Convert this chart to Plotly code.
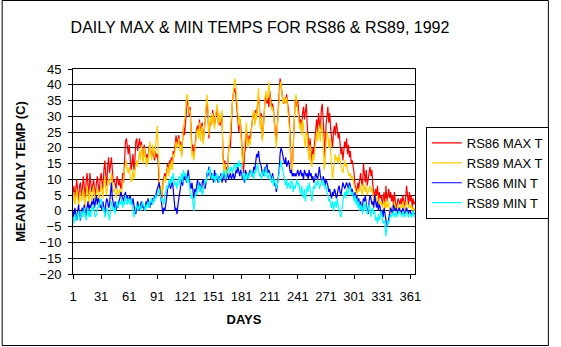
import plotly.graph_objects as go

# ---------------- data ----------------
days = list(range(1, 367))

rs86_max = [
    5, 8, 4, 7, 10, 6, 3, 8, 9, 5,
    7, 11, 6, 4, 9, 12, 8, 5, 12, 9,
    6, 8, 10, 7, 5, 9, 11, 8, 6, 10,
    12, 9, 7, 13, 16, 11, 8, 14, 17, 12,
    15, 17, 13, 9, 10, 8, 7, 11, 9, 8,
    10, 7, 8, 12, 9, 14, 22, 23, 20, 18,
    21, 17, 13, 15, 18, 13, 16, 22, 23, 19,
    21, 23, 20, 22, 18, 16, 21, 19, 16, 18,
    16, 20, 21, 19, 17, 20, 18, 16, 19, 17,
    18, 15, 8, 5, 7, 4, 9, 11, 12, 10,
    13, 15, 12, 16, 15, 17, 14, 19, 18, 22,
    24, 21, 23, 24, 20, 22, 18, 25, 27, 24,
    28, 32, 35, 34, 30, 33, 24, 19, 21, 17,
    20, 24, 26, 27, 25, 29, 24, 27, 28, 22,
    26, 30, 34, 35, 31, 23, 27, 29, 28, 32,
    30, 27, 29, 31, 33, 28, 30, 27, 29, 31,
    18, 14, 16, 12, 14, 13, 19, 21, 20, 30,
    34, 37, 38, 39, 36, 33, 30, 25, 29, 27,
    22, 14, 12, 18, 20, 26, 23, 21, 24, 22,
    25, 29, 30, 31, 28, 32, 30, 34, 36, 33,
    27, 31, 23, 26, 33, 35, 37, 34, 36, 33,
    38, 35, 33, 34, 32, 28, 24, 22, 27, 33,
    38, 42, 40, 37, 35, 34, 36, 35, 37, 34,
    32, 28, 20, 14, 13, 22, 30, 34, 36, 33,
    35, 31, 27, 29, 25, 31, 33, 29, 32, 34,
    27, 21, 19, 23, 17, 15, 20, 18, 22, 26,
    29, 25, 31, 28, 26, 32, 34, 29, 24, 17,
    27, 30, 33, 28, 31, 26, 23, 20, 25, 27,
    24, 28, 26, 23, 25, 21, 18, 20, 16, 19,
    22, 20, 23, 18, 21, 17, 19, 15, 16, 14,
    12, 8, 7, 6, 9, 7, 10, 12, 9, 8,
    15, 11, 9, 13, 8, 10, 12, 14, 11, 13,
    8, 6, 4, 7, 5, 8, 3, 6, 4, 5,
    2, 4, 6, 1, 8, 3, 5, 7, 4, 6,
    3, 5, 2, 6, 3, 1, 2, 4, 3, 2,
    4, 2, 5, 3, 1, 4, 8, 5, 2, 6,
    3, 5, 1, 4, 2, 3,
]

rs89_max = [
    3, 6, 2, 5, 7, 4, 1, 5, 6, 3,
    4, 7, 3, 1, 5, 8, 5, 2, 7, 6,
    3, 5, 8, 4, 2, 6, 7, 5, 3, 6,
    8, 6, 4, 9, 11, 7, 5, 9, 10, 8,
    10, 12, 9, 6, 7, 5, 4, 7, 6, 5,
    7, 5, 6, 9, 10, 13, 15, 16, 13, 12,
    14, 11, 9, 10, 13, 10, 12, 15, 16, 14,
    17, 19, 16, 21, 18, 15, 20, 18, 14, 17,
    15, 19, 22, 18, 16, 21, 19, 17, 20, 24,
    27, 18, 9, 6, 8, 5, 8, 10, 11, 9,
    12, 14, 11, 15, 13, 16, 13, 18, 17, 20,
    22, 20, 21, 23, 19, 21, 17, 24, 26, 28,
    31, 36, 37, 35, 31, 32, 22, 17, 19, 16,
    19, 23, 25, 26, 23, 28, 22, 26, 27, 21,
    25, 29, 36, 37, 33, 24, 28, 30, 27, 31,
    29, 26, 30, 32, 34, 27, 31, 28, 30, 32,
    17, 13, 15, 12, 13, 12, 18, 22, 26, 29,
    33, 38, 41, 42, 37, 34, 31, 27, 30, 25,
    19, 15, 17, 20, 24, 28, 22, 20, 23, 21,
    24, 28, 31, 32, 27, 31, 29, 35, 39, 32,
    26, 30, 22, 25, 32, 36, 38, 35, 37, 41,
    37, 34, 32, 33, 31, 27, 23, 20, 26, 32,
    37, 40, 41, 38, 34, 35, 36, 34, 36, 33,
    30, 26, 18, 14, 12, 20, 28, 35, 37, 34,
    33, 30, 26, 28, 24, 29, 27, 22, 20, 25,
    24, 19, 16, 21, 15, 14, 18, 16, 20, 22,
    25, 22, 27, 24, 22, 28, 26, 23, 13, 15,
    22, 25, 24, 20, 23, 18, 12, 10, 13, 17,
    18, 16, 17, 15, 18, 16, 14, 13, 12, 15,
    16, 14, 15, 13, 12, 11, 12, 10, 11, 9,
    8, 7, 6, 5, 7, 6, 7, 8, 6, 5,
    9, 7, 6, 8, 5, 6, 7, 8, 6, 7,
    5, 3, 2, 4, 3, 5, 1, 3, 2, 3,
    1, 2, 3, 0, 4, 1, 2, 3, -1, 1,
    0, 2, 1, 3, 1, 0, 1, 2, 1, 0,
    2, 1, 3, 1, 0, 2, 3, 2, 1, 2,
    1, 2, 0, 1, 0, 1,
]

rs86_min = [
    0, -2, 1, -1, -3, 0, 2, -2, -3, 0,
    1, -1, 2, 0, -2, 1, 3, 0, 2, 1,
    3, 2, 4, 1, 3, 5, 2, 4, 3, 1,
    2, 0, 3, 1, -1, 2, 4, 3, 1, 2,
    5, 9, 4, 2, 1, 3, 0, 2, 1, 3,
    4, 6, 5, 4, 3, 5, 6, 4, 5, 3,
    4, 5, 3, 2, 4, 1, 0, -1, 2, 3,
    1, 0, 2, 3, 1, 2, 0, 1, 3, 2,
    4, 2, 1, 3, 2, 4, 3, 5, 4, 6,
    7, 8, 9, 6, 3, 0, -1, 1, 0, 2,
    5, 7, 8, 9, 7, 8, 10, 6, 2, 0,
    1, -1, 2, 4, 7, 9, 10, 8, 11, 10,
    12, 9, 11, 13, 10, 8, 7, 9, 5, 4,
    7, 6, 8, 10, 7, 9, 8, 6, 9, 10,
    8, 7, 9, 12, 11, 14, 13, 10, 12, 11,
    9, 13, 11, 12, 10, 9, 11, 10, 12, 9,
    10, 12, 11, 9, 11, 12, 10, 11, 12, 10,
    11, 12, 10, 11, 13, 12, 14, 12, 11, 13,
    12, 10, 11, 9, 13, 12, 11, 10, 12, 13,
    12, 11, 12, 14, 13, 16, 18, 17, 19, 16,
    15, 14, 12, 13, 11, 14, 13, 15, 12, 13,
    12, 11, 10, 12, 9, 8, 9, 6, 8, 10,
    13, 18, 20, 19, 17, 16, 15, 17, 14, 15,
    16, 14, 12, 13, 11, 12, 11, 12, 11, 12,
    13, 11, 12, 13, 11, 12, 10, 13, 12, 11,
    12, 10, 13, 11, 12, 10, 11, 9, 10, 12,
    11, 10, 12, 14, 11, 10, 9, 11, 10, 8,
    10, 9, 8, 6, 7, 5, 4, 6, 5, 7,
    6, 4, 5, 7, 8, 6, 5, 7, 9, 8,
    7, 8, 9, 8, 7, 9, 8, 6, 7, 5,
    4, 6, 3, 5, 2, 4, 1, 3, 0, 2,
    4, 3, 5, 2, 0, -1, 3, 5, 4, 2,
    3, 1, 5, 2, 1, 3, 0, 2, 1, -1,
    0, -2, 1, -1, -3, -5, -4, -2, 0, 1,
    0, -1, 2, 1, 0, 1, -1, 0, 1, 0,
    0, -1, 1, 0, -1, 0, 1, 0, -1, 0,
    0, -1, -1, 0, -1, -1,
]

rs89_min = [
    -2, -4, -1, -3, -2, -1, 0, -3, -2, -1,
    0, -2, 1, -1, -3, -1, 1, -2, 0, -2,
    1, 0, 2, -1, -2, -1, 0, 2, 1, 3,
    4, 2, 0, 1, -2, -1, 1, 0, -1, -3,
    1, 3, 2, 0, 1, -1, 2, 3, 1, 2,
    3, 2, 4, 1, 3, 2, 5, 3, 2, 4,
    3, 2, 4, 1, 0, -2, 0, 1, 2, 0,
    1, 2, 0, 1, 3, 2, 1, 0, 2, 1,
    3, 1, 2, 4, 3, 2, 4, 3, 5, 4,
    5, 6, 7, 5, 4, 3, 4, 2, 5, 6,
    8, 7, 9, 10, 8, 11, 9, 12, 10, 8,
    9, 7, 10, 11, 8, 10, 12, 9, 13, 11,
    12, 10, 9, 11, 8, 6, 4, 5, 3, 0,
    4, 6, 5, 7, 9, 6, 8, 7, 5, 6,
    8, 10, 9, 11, 13, 12, 14, 11, 10, 12,
    10, 11, 9, 12, 11, 10, 9, 11, 10, 12,
    11, 13, 12, 10, 12, 13, 14, 12, 13, 14,
    12, 13, 15, 14, 13, 15, 14, 16, 14, 15,
    13, 11, 10, 12, 9, 11, 12, 10, 11, 12,
    13, 11, 12, 10, 13, 12, 14, 15, 13, 11,
    12, 10, 11, 13, 12, 11, 14, 12, 10, 11,
    12, 10, 9, 11, 8, 10, 9, 7, 8, 10,
    12, 15, 16, 14, 13, 11, 9, 8, 10, 7,
    9, 8, 7, 10, 9, 6, 8, 7, 9, 10,
    8, 9, 7, 5, 8, 6, 4, 7, 3, 5,
    8, 6, 9, 7, 5, 3, 6, 8, 7, 9,
    8, 10, 9, 7, 8, 9, 10, 8, 9, 7,
    8, 6, 5, 3, 4, 2, 1, 3, 0, 2,
    3, 1, 4, 2, 0, -1, -2, 1, 3, 5,
    6, 4, 7, 5, 6, 8, 7, 5, 6, 4,
    3, 5, 2, 4, 1, 3, 0, 2, 1, -1,
    2, 0, 3, 1, -1, 0, 2, 1, -2, 0,
    1, -1, 0, -3, -2, -4, -1, -3, -2, 0,
    -2, -4, -3, -6, -8, -5, -3, -4, -2, -1,
    -2, -1, 0, -2, -1, 0, -2, -1, 0, -1,
    -1, -2, 0, -1, -2, -1, 0, -1, -2, -1,
    -1, -2, -1, 0, -2, -1,
]

series_names = ["RS86 MAX T", "RS89 MAX T", "RS86 MIN T", "RS89 MIN T"]
series_values = [rs86_max, rs89_max, rs86_min, rs89_min]
series_colors = ["#FF0000", "#FFCC00", "#0000FF", "#00FFFF"]

x_tick_vals = list(range(1, 367, 30))
y_tick_vals = list(range(-20, 50, 5))

# ---------------- figure ----------------
W, H = 561, 347
ML, MR, MT, MB = 73, 138, 69, 73
PW, PH = W - ML - MR, H - MT - MB
FONT = "Liberation Sans, Arial, sans-serif"

fig = go.Figure()
for name, vals, col in zip(series_names, series_values, series_colors):
    fig.add_trace(go.Scatter(x=days, y=vals, mode="lines", name=name,
                             legendgroup=name,
                             line=dict(color=col, width=1.2)))

def px_x(px):
    return (px - ML) / PW

def px_y(py):
    return (H - MB - py) / PH

fig.update_layout(
    width=W, height=H,
    margin=dict(l=ML, r=MR, t=MT, b=MB, pad=0),
    paper_bgcolor="white", plot_bgcolor="white",
    font=dict(family=FONT, size=13, color="black"),
    title=dict(text="DAILY MAX &amp; MIN TEMPS FOR RS86 &amp; RS89, 1992",
               font=dict(family=FONT, size=16, color="black"),
               x=260 / W, xanchor="center", xref="container",
               y=1 - 27 / H, yanchor="middle", yref="container"),
    showlegend=True,
    legend=dict(x=px_x(434), y=px_y(127), xanchor="left", yanchor="top",
                bordercolor="black", borderwidth=1, bgcolor="white",
                font=dict(family=FONT, size=13, color="black"),
                tracegroupgap=0, itemwidth=30),
    xaxis=dict(range=[1, 366], tickmode="array", tickvals=x_tick_vals,
               ticktext=[str(v) for v in x_tick_vals],
               showgrid=False, zeroline=False,
               showline=True, linecolor="black", linewidth=1, mirror=True,
               ticks="outside", ticklen=4, tickcolor="black",
               ticklabelstandoff=6,
               tickfont=dict(family=FONT, size=13, color="black"),
               title=dict(text="<b>DAYS</b>", standoff=12,
                          font=dict(family=FONT, size=13, color="black"))),
    yaxis=dict(range=[-20, 45], tickmode="array", tickvals=y_tick_vals,
               showgrid=True, gridcolor="black", gridwidth=1,
               zeroline=False,
               showline=True, linecolor="black", linewidth=1, mirror=True,
               ticks="outside", ticklen=4, tickcolor="black",
               ticklabelstandoff=4,
               tickfont=dict(family=FONT, size=13, color="black"),
               title=dict(text="<b>MEAN DAILY TEMP (C)</b>", standoff=10,
                          font=dict(family=FONT, size=13, color="black"))),
)

# outer chart border
fig.add_shape(type="rect", xref="paper", yref="paper",
              x0=px_x(0.5), x1=px_x(W - 1.5), y0=px_y(H - 1.5), y1=px_y(0.5),
              line=dict(color="black", width=1), fillcolor="rgba(0,0,0,0)",
              layer="above")

fig.write_html("out.html")
